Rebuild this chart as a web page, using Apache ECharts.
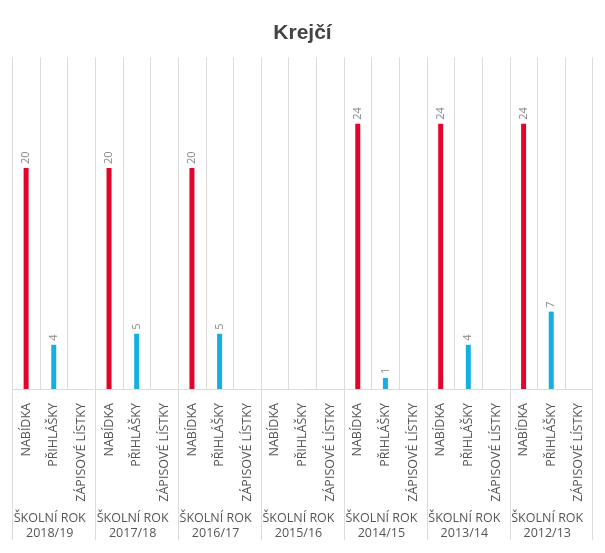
<!DOCTYPE html>
<html>
<head>
<meta charset="utf-8">
<script src="https://cdn.jsdelivr.net/npm/echarts@6/dist/echarts.min.js"></script>
<style>
html,body{margin:0;padding:0;background:#fff;}
#chart{width:605px;height:553px;}
</style>
</head>
<body>
<div id="chart"></div>
<script>
const title = 'Krejčí';
const years = ['2018/19', '2017/18', '2016/17', '2015/16', '2014/15', '2013/14', '2012/13'];
const types = ['NABÍDKA', 'PŘIHLÁŠKY', 'ZÁPISOVÉ LÍSTKY'];
const nabidka = [20, 20, 20, null, 24, 24, 24];
const prihlasky = [4, 5, 5, null, 1, 4, 7];
const zapisove = [null, null, null, null, null, null, null];
const yMax = 30;

const cats = [];
const s0 = [], s1 = [], s2 = [];
years.forEach((y, g) => {
  types.forEach((t, k) => {
    cats.push(t);
    s0.push(k === 0 ? nabidka[g] : null);
    s1.push(k === 1 ? prihlasky[g] : null);
    s2.push(k === 2 ? zapisove[g] : null);
  });
});

const lineColor = '#dcdcdc';
const labelCfg = {
  show: true, position: 'top', rotate: 90, align: 'left', verticalAlign: 'middle',
  distance: 4, color: '#888', fontSize: 11, fontFamily: 'Open Sans',
  formatter: p => (p.value == null ? '' : String(p.value))
};

const chart = echarts.init(document.getElementById('chart'), null, {renderer: 'canvas'});
chart.setOption({
  animation: false,
  backgroundColor: '#fff',
  title: {
    text: title, left: 'center', top: 18,
    textStyle: {fontSize: 21, fontWeight: 'bold', color: '#444', fontFamily: 'Liberation Sans'}
  },
  grid: {left: 12.3, right: 12.3, top: 57.5, bottom: 164, containLabel: false},
  xAxis: [
    {
      type: 'category', data: cats, position: 'bottom',
      axisLine: {show: true, lineStyle: {color: lineColor}},
      axisTick: {show: false},
      splitLine: {show: true, interval: 0, lineStyle: {color: lineColor}},
      axisLabel: {
        interval: 0, rotate: 90, margin: 14, color: '#555', fontSize: 12.5,
        fontFamily: 'Open Sans'
      }
    },
    {
      type: 'category', data: years.map(y => 'ŠKOLNÍ ROK\n' + y), position: 'bottom',
      axisLine: {show: false},
      axisTick: {show: true, length: 151, interval: 0, lineStyle: {color: lineColor}},
      splitLine: {show: false},
      axisLabel: {
        interval: 0, margin: 122, color: '#555', fontSize: 12.5, lineHeight: 15,
        fontFamily: 'Open Sans', padding: [0, 8, 0, 0]
      }
    }
  ],
  yAxis: {
    type: 'value', min: 0, max: yMax,
    show: false, splitLine: {show: false}
  },
  series: [
    {name: types[0], type: 'bar', data: s0, barWidth: 5, barGap: '-100%', itemStyle: {color: '#E1052B'}, label: labelCfg},
    {name: types[1], type: 'bar', data: s1, barWidth: 5, barGap: '-100%', itemStyle: {color: '#17AEE1'}, label: labelCfg},
    {name: types[2], type: 'bar', data: s2, barWidth: 5, barGap: '-100%', itemStyle: {color: '#9a9a9a'}, label: labelCfg}
  ]
});
</script>
</body>
</html>
